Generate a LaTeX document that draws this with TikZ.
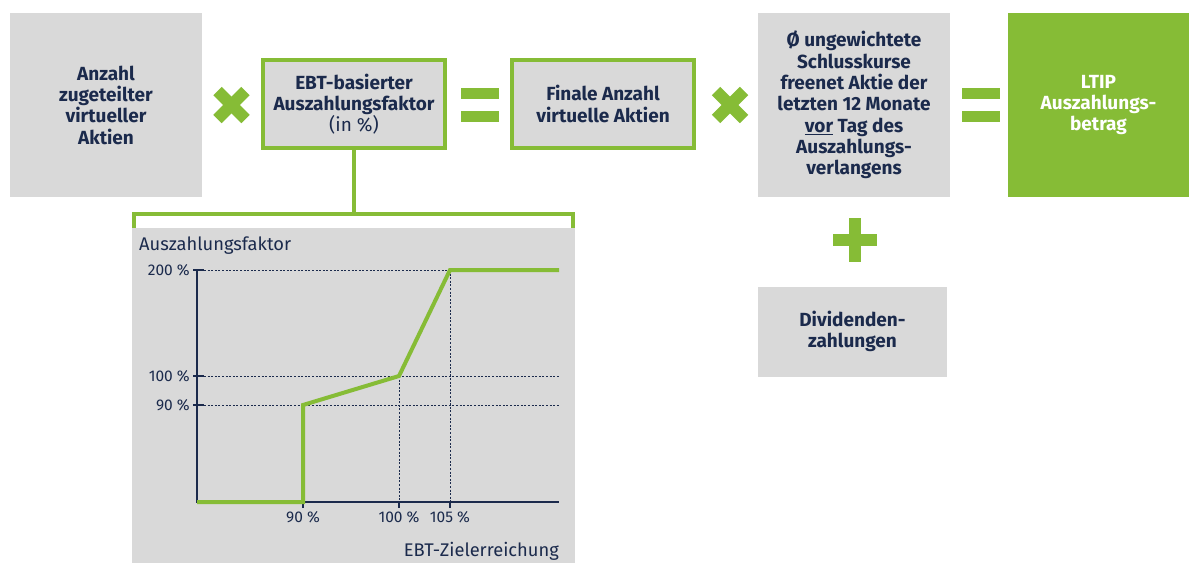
\documentclass[tikz,border=0pt]{standalone}
\usepackage{fontspec}
\setmainfont{Fira Sans}
\definecolor{lgreen}{HTML}{86BC36}
\definecolor{lgray}{HTML}{D9D9D9}
\definecolor{navy}{HTML}{1B2A4C}
\begin{document}
\begin{tikzpicture}[x=1pt,y=-1pt,
 box/.style={fill=lgray, inner sep=0pt, align=center, text=navy, font=\fontsize{19}{21.3}\selectfont\bfseries},
 gbox/.style={box, draw=lgreen, line width=4pt},
 signline/.style={lgreen, line width=12pt},
 lbl/.style={text=navy, font=\fontsize{15.5}{18}\selectfont, inner sep=0pt},
 dotl/.style={navy, dash pattern=on 2pt off 1.6pt, line width=0.8pt},
 axis/.style={navy, line width=1.3pt},
 curve/.style={lgreen, line width=4pt, line join=miter},
 brack/.style={lgreen, line width=4pt}
]
\useasboundingbox (0,0) rectangle (1189,563);

% top boxes
\node[box, minimum width=192pt, minimum height=184pt] (b1) at (106,105) {Anzahl\\zugeteilter\\virtueller\\Aktien};
\node[gbox, minimum width=182pt, minimum height=88pt] (b2) at (354,104) {EBT-basierter\\Auszahlungsfaktor\\{\mdseries (in \%)}};
\node[gbox, minimum width=182pt, minimum height=88pt] (b3) at (603,104) {Finale Anzahl\\virtuelle Aktien};
\node[box, minimum width=192pt, minimum height=184pt] (b4) at (854,105) {Ø ungewichtete\\Schlusskurse\\freenet Aktie der\\letzten 12 Monate\\\underline{vor} Tag des\\Auszahlungs-\\verlangens};
\node[box, fill=lgreen, text=white, minimum width=181pt, minimum height=184pt] (b5) at (1098.5,105) {LTIP\\Auszahlungs-\\betrag};
\node[box, minimum width=189pt, minimum height=90pt] (b6) at (852.5,331.5) {Dividenden-\\zahlungen};

% operator signs
\coordinate (m1) at (231.5,105);
\coordinate (e1) at (480,105);
\coordinate (m2) at (730,105);
\coordinate (e2) at (981,105);
\coordinate (p1) at (855,240);
\foreach \c in {m1,m2}{
  \draw[signline] ([shift={(-14,-14)}]\c) -- ([shift={(14,14)}]\c);
  \draw[signline] ([shift={(-14,14)}]\c) -- ([shift={(14,-14)}]\c);
}
\foreach \c in {e1,e2}{
  \fill[lgreen] ([shift={(-19,-17)}]\c) rectangle ([shift={(19,-6)}]\c);
  \fill[lgreen] ([shift={(-19,6)}]\c) rectangle ([shift={(19,17)}]\c);
}
\fill[lgreen] ([shift={(-22,-6)}]p1) rectangle ([shift={(22,6)}]p1);
\fill[lgreen] ([shift={(-6,-22)}]p1) rectangle ([shift={(6,22)}]p1);

% bracket connector to chart
\coordinate (bm) at (354,214);
\coordinate (bl) at (134,214);
\coordinate (br) at (573,214);
\coordinate (bl2) at (134,230);
\coordinate (br2) at (573,230);
\draw[brack] (b2.south) -- (bm);
\draw[brack, line cap=rect] (bl2) -- (bl) -- (br) -- (br2);

% chart panel
\node[fill=lgray, inner sep=0pt, minimum width=443pt, minimum height=335pt, anchor=north west] (panel) at (132,228) {};

% grid
\coordinate (o) at (197,502);
\draw[dotl] (204,270) -- (559,270);
\draw[dotl] (204,376) -- (559,376);
\draw[dotl] (204,405) -- (559,405);
\draw[dotl] (399,376) -- (399,502);
\draw[dotl] (450,270) -- (450,502);

% axes
\draw[axis] (197,270) -- (o) -- (559,502);
\foreach \yy in {270,376,405} \draw[axis] (193,\yy) -- (204,\yy);
\foreach \xx in {303,399,450} \draw[axis] (\xx,502) -- (\xx,508);

% curve
\draw[curve] (197,502) -- (303,502) -- (303,405) -- (399,376) -- (450,270) -- (559,270);

% labels
\node[lbl, anchor=west, font=\fontsize{18.3}{21}\selectfont] (ylab) at (139,246) {Auszahlungsfaktor};
\node[lbl, anchor=east] (y200) at (190,270) {200 \%};
\node[lbl, anchor=east] (y100) at (190,376) {100 \%};
\node[lbl, anchor=east] (y90) at (190,405) {90 \%};
\node[lbl] (x90) at (303,517) {90 \%};
\node[lbl] (x100) at (399,517) {100 \%};
\node[lbl] (x105) at (450,517) {105 \%};
\node[lbl, anchor=east, font=\fontsize{18.3}{21}\selectfont] (xlab) at (559,551) {EBT-Zielerreichung};
\end{tikzpicture}
\end{document}
